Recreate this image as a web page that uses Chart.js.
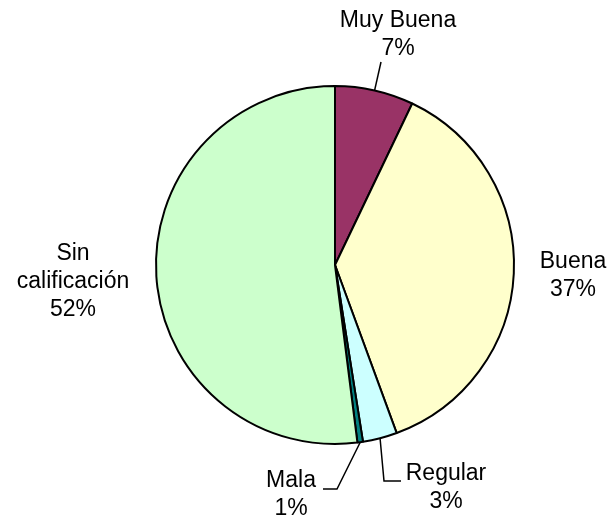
<!DOCTYPE html>
<html>
<head>
<meta charset="utf-8">
<script src="https://cdn.jsdelivr.net/npm/chart.js@4"></script>
<style>
  html, body { margin: 0; padding: 0; background: #fff; }
  canvas { display: block; }
</style>
</head>
<body>
<canvas id="pieChart" width="612" height="519"></canvas>
<script>
let categories = ['Muy Buena', 'Buena', 'Regular', 'Mala', 'Sin calificación'];
let shares = [7.1, 37.3, 3.1, 0.5, 52.0];
let colorHex = ['#993366', '#FFFFCC', '#CCFFFF', '#008080', '#CCFFCC'];

// where each label sits, offset from the pie centre (px), and optional leader elbows
let labelSpots = [
    { dx: 63, dy: -230, leader: [[46, -203]] },
    { dx: 238, dy: 11 },
    { dx: 111, dy: 223, leader: [[49, 216], [66, 216]] },
    { dx: -44, dy: 230, leader: [[2, 224], [-12, 224]] },
    { dx: -262, dy: 17 }
];

const pieLabels = {
    id: 'pieLabels',
    afterDraw(chart) {
        const ctx = chart.ctx;
        const meta = chart.getDatasetMeta(0);
        const total = shares.reduce((a, b) => a + b, 0);
        ctx.save();
        ctx.font = '23px "Liberation Sans", Arial, sans-serif';
        ctx.fillStyle = '#000';
        ctx.textAlign = 'center';
        ctx.textBaseline = 'middle';
        meta.data.forEach((arc, i) => {
            const p = arc.getProps(['x', 'y', 'startAngle', 'endAngle', 'outerRadius'], true);
            const spot = labelSpots[i];
            const pct = Math.round(shares[i] / total * 100) + '%';
            const lines = categories[i] === 'Sin calificación' ? ['Sin', 'calificación', pct] : [categories[i], pct];
            const lh = 28;
            const y0 = p.y + spot.dy - (lines.length - 1) * lh / 2;
            lines.forEach((t, k) => ctx.fillText(t, p.x + spot.dx, y0 + k * lh));
            if (spot.leader) {
                const mid = (p.startAngle + p.endAngle) / 2;
                ctx.beginPath();
                ctx.strokeStyle = '#000';
                ctx.lineWidth = 1.5;
                ctx.moveTo(p.x + Math.cos(mid) * p.outerRadius, p.y + Math.sin(mid) * p.outerRadius);
                spot.leader.forEach(pt => ctx.lineTo(p.x + pt[0], p.y + pt[1]));
                ctx.stroke();
            }
        });
        ctx.restore();
    }
};

let ctx = document.getElementById('pieChart').getContext('2d');
let myChart = new Chart(ctx, {
    type: 'pie',
    data: {
        labels: categories,
        datasets: [{
            data: shares,
            backgroundColor: colorHex,
            borderColor: '#000',
            borderWidth: 2
        }]
    },
    options: {
        responsive: false,
        animation: false,
        layout: {
            padding: { left: 155, right: 97, top: 85, bottom: 74 }
        },
        plugins: {
            legend: { display: false },
            tooltip: { enabled: false }
        }
    },
    plugins: [pieLabels]
});
</script>
</body>
</html>
